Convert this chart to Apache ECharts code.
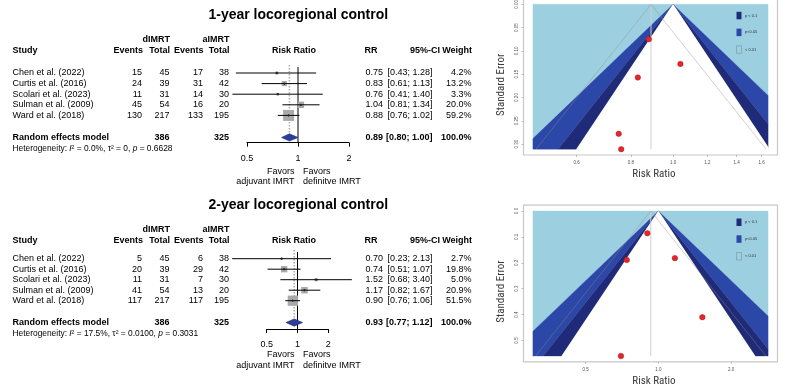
<!DOCTYPE html>
<html><head><meta charset="utf-8">
<script src="https://cdn.jsdelivr.net/npm/echarts@6/dist/echarts.min.js"></script>
<style>html,body{margin:0;padding:0;background:#fff}#c{width:787px;height:388px}</style>
</head><body><div id="c"></div>
<script>
// ---------------- DATA ----------------
const studies = ['Chen et al. (2022)','Curtis et al. (2016)','Scolari et al. (2023)','Sulman et al. (2009)','Ward et al. (2018)'];
const titles = ['1-year locoregional control','2-year locoregional control'];
// 1-year
const y1_dEvents = [15,24,11,45,130];
const y1_dTotal  = [45,39,31,54,217];
const y1_aEvents = [17,31,14,16,133];
const y1_aTotal  = [38,42,30,20,195];
const y1_rr      = [0.75,0.83,0.76,1.04,0.88];
const y1_lo      = [0.43,0.61,0.41,0.81,0.76];
const y1_hi      = [1.28,1.13,1.40,1.34,1.02];
const y1_weight  = [4.2,13.2,3.3,20.0,59.2];
const y1_pooled  = [0.89,0.80,1.00];
const y1_totals  = [386,325];
const y1_het     = ['0.0%','0','0.6628'];
const y1_se      = [0.278,0.157,0.311,0.128,0.075];
// 2-year
const y2_dEvents = [5,20,11,41,117];
const y2_dTotal  = [45,39,31,54,217];
const y2_aEvents = [6,29,7,13,117];
const y2_aTotal  = [38,42,30,20,195];
const y2_rr      = [0.70,0.74,1.52,1.17,0.90];
const y2_lo      = [0.23,0.51,0.68,0.82,0.76];
const y2_hi      = [2.13,1.07,3.40,1.67,1.06];
const y2_weight  = [2.7,19.8,5.0,20.9,51.5];
const y2_pooled  = [0.93,0.77,1.12];
const y2_totals  = [386,325];
const y2_het     = ['17.5%','0.0100','0.3031'];
const y2_se      = [0.56,0.189,0.41,0.182,0.086];
// axes / ticks
const forestTicks = [0.5,1,2];
const funnel1XTicks = [0.6,0.8,1.0,1.2,1.4,1.6];
const funnel1YTicks = [0,0.05,0.10,0.15,0.20,0.25,0.30];
const funnel2XTicks = [0.5,1.0,2.0];
const funnel2YTicks = [0,0.1,0.2,0.3,0.4,0.5];
const funnel1XLim = [0.476,1.655];
const funnel2XLim = [0.3026,2.843];
const contourZ = [2.576,1.96,1.645];
const legendLabels = ['p < 0.1','p<0.05','< 0.01'];

// ---------------- LAYOUT / STYLE ----------------
const FF = '"Liberation Sans", Arial, Helvetica, sans-serif';
const FN = '"Liberation Sans Narrow", "Roboto Condensed", Roboto, sans-serif';
const COL = {name:12.5, dE:142, dN:169.5, aE:203, aN:229, rr:383, ci:432.5, w:471.5,
             hE1:143, hN1:170, hE2:203.5, hN2:229.5, hRR:377.5, hCI:440, hW:472, rrHdr:294, favL:294.5, favR:303};
const RANDOM_ROW = 6.08, HET_ROW = 7.15;
const COLORS = {light:'#9ccfe0', medium:'#2b47a8', dark:'#1f2b78', inner:'#ffffff', diamond:'#2b3f98', square:'#aaaaaa', point:'#e3262d'};
const FL = [
  {titleY:15.3, grpY:39.7, hdrY:50.7, rowY:73, step:10.6, top:67, axisY:142.7, xl:247, xr:349, fav1Y:171.2, fav2Y:181.2},
  {titleY:205.3, grpY:229.7, hdrY:240.7, rowY:258.7, step:10.5, top:252, axisY:329, xl:266.7, xr:328.3, fav1Y:355, fav2Y:366}
];
const FUL = [
  {left:523.5, width:254, fillTop:4.3, pxPerSE:466},
  {left:523.5, width:254, fillTop:211, pxPerSE:259}
];

const forests = [
  {title:titles[0], dE:y1_dEvents, dN:y1_dTotal, aE:y1_aEvents, aN:y1_aTotal, rr:y1_rr, lo:y1_lo, hi:y1_hi, w:y1_weight, pooled:y1_pooled, totals:y1_totals, het:y1_het, L:FL[0]},
  {title:titles[1], dE:y2_dEvents, dN:y2_dTotal, aE:y2_aEvents, aN:y2_aTotal, rr:y2_rr, lo:y2_lo, hi:y2_hi, w:y2_weight, pooled:y2_pooled, totals:y2_totals, het:y2_het, L:FL[1]}
];
const funnels = [
  {rr:y1_rr, se:y1_se, pooled:y1_pooled[0], xlim:funnel1XLim, xTicks:funnel1XTicks, yTicks:funnel1YTicks, xDec:1, yDec:2, L:FUL[0]},
  {rr:y2_rr, se:y2_se, pooled:y2_pooled[0], xlim:funnel2XLim, xTicks:funnel2XTicks, yTicks:funnel2YTicks, xDec:1, yDec:1, L:FUL[1]}
];

// ---------------- HELPERS ----------------
const graphics = [];
function T(x, y, text, o) {
  o = o || {};
  const st = {text:text, x:0, y:0, fill:o.color||'#000', fontSize:o.size||9, fontFamily:o.family||FF,
    fontWeight:o.bold?'bold':'normal', align:o.align||'left', verticalAlign:'middle',
    textAlign:o.align||'left', textVerticalAlign:'middle'};
  if (o.rich) st.rich = o.rich;
  graphics.push({type:'text', x:x, y:y, rotation:o.rot||0, silent:true, style:st});
}
function txt(x, y, s, align, bold) {
  return {type:'text', silent:true, style:{text:s, x:x, y:y, fill:'#000', fontSize:9, fontFamily:FF,
    fontWeight:bold?'bold':'normal', align:align, verticalAlign:'middle', textAlign:align, textVerticalAlign:'middle'}};
}
function clipPoly(poly, L, R) {
  function clip(pts, inside, inter) {
    const out = [];
    for (let k = 0; k < pts.length; k++) {
      const cur = pts[k], prev = pts[(k + pts.length - 1) % pts.length];
      const ci = inside(cur), pi = inside(prev);
      if (ci) { if (!pi) out.push(inter(prev, cur)); out.push(cur); }
      else if (pi) out.push(inter(prev, cur));
    }
    return out;
  }
  const ix = X => (p, q) => [X, p[1] + (q[1] - p[1]) * (X - p[0]) / (q[0] - p[0])];
  let r = clip(poly, p => p[0] >= L, ix(L));
  r = clip(r, p => p[0] <= R, ix(R));
  return r;
}

const grids = [], xAxes = [], yAxes = [], series = [];

// ---------------- FORESTS ----------------
forests.forEach((f, fi) => {
  const L = f.L;
  const yMin = (L.top - L.rowY) / L.step, yMax = (L.axisY - L.rowY) / L.step;
  grids.push({left:L.xl, top:L.top, width:L.xr - L.xl, height:L.axisY - L.top, containLabel:false, outerBoundsMode:'none'});
  xAxes.push({type:'log', logBase:2, gridIndex:fi, position:'bottom', min:forestTicks[0], max:forestTicks[forestTicks.length-1],
    axisLine:{show:true, onZero:false, lineStyle:{color:'#000', width:1}},
    axisTick:{show:true, inside:false, length:4, lineStyle:{color:'#000', width:1}},
    axisLabel:{show:true, color:'#000', fontSize:9, fontFamily:FF, margin:11.5, formatter:v => String(+v)},
    splitLine:{show:false}});
  yAxes.push({type:'value', gridIndex:fi, inverse:true, min:yMin, max:yMax, show:false, axisLine:{onZero:false}});

  series.push({type:'custom', xAxisIndex:fi, yAxisIndex:fi, clip:false, silent:true, z:1,
    data:[[1, 0]], encode:{x:0, y:1},
    renderItem:(params, api) => {
      const a = api.coord([1, yMin]), b = api.coord([1, yMax]);
      const p = api.coord([f.pooled[0], yMin - 0.2]), q = api.coord([f.pooled[0], RANDOM_ROW - 0.45]);
      return {type:'group', children:[
        {type:'line', shape:{x1:p[0], y1:p[1], x2:q[0], y2:q[1]}, style:{stroke:'#b0b0b0', lineWidth:1.6, lineDash:[1.5,1.5]}},
        {type:'line', shape:{x1:a[0], y1:a[1], x2:b[0], y2:b[1]}, style:{stroke:'#000', lineWidth:1}}
      ]};
    }});

  series.push({type:'custom', xAxisIndex:fi, yAxisIndex:fi, clip:false, silent:true, z:3,
    data:studies.map((n, i) => [f.rr[i], i, f.lo[i], f.hi[i], f.w[i]]), encode:{x:0, y:1},
    renderItem:(params, api) => {
      const i = params.dataIndex;
      const row = api.value(1);
      const c = api.coord([api.value(0), row]), a = api.coord([api.value(2), row]), b = api.coord([api.value(3), row]);
      const y = c[1];
      const s = Math.sqrt(api.value(4)) * 1.43;
      return {type:'group', children:[
        {type:'rect', shape:{x:c[0] - s/2, y:y - s/2, width:s, height:s}, style:{fill:COLORS.square}},
        {type:'line', shape:{x1:a[0], y1:y, x2:b[0], y2:y}, style:{stroke:'#000', lineWidth:1}},
        {type:'polygon', shape:{points:[[c[0]-1.4,y],[c[0],y-1.4],[c[0]+1.4,y],[c[0],y+1.4]]}, style:{fill:'#222'}},
        txt(COL.name, y, studies[i], 'left'),
        txt(COL.dE, y, String(f.dE[i]), 'right'),
        txt(COL.dN, y, String(f.dN[i]), 'right'),
        txt(COL.aE, y, String(f.aE[i]), 'right'),
        txt(COL.aN, y, String(f.aN[i]), 'right'),
        txt(COL.rr, y, f.rr[i].toFixed(2), 'right'),
        txt(COL.ci, y, '[' + f.lo[i].toFixed(2) + '; ' + f.hi[i].toFixed(2) + ']', 'right'),
        txt(COL.w, y, f.w[i].toFixed(1) + '%', 'right')
      ]};
    }});

  series.push({type:'custom', xAxisIndex:fi, yAxisIndex:fi, clip:false, silent:true, z:3,
    data:[[f.pooled[0], RANDOM_ROW, f.pooled[1], f.pooled[2]]], encode:{x:0, y:1},
    renderItem:(params, api) => {
      const row = api.value(1);
      const c = api.coord([api.value(0), row]), a = api.coord([api.value(2), row]), b = api.coord([api.value(3), row]);
      const y = c[1], h = 3.6;
      const total = f.w.reduce((s, v) => s + v, 0);
      return {type:'group', children:[
        {type:'polygon', shape:{points:[[a[0], y],[c[0], y - h],[b[0], y],[c[0], y + h]]}, style:{fill:COLORS.diamond, stroke:'#1e2c78', lineWidth:0.6}},
        txt(COL.name, y, 'Random effects model', 'left', true),
        txt(COL.dN, y, String(f.totals[0]), 'right', true),
        txt(COL.aN, y, String(f.totals[1]), 'right', true),
        txt(COL.rr, y, f.pooled[0].toFixed(2), 'right', true),
        txt(COL.ci, y, '[' + f.pooled[1].toFixed(2) + '; ' + f.pooled[2].toFixed(2) + ']', 'right', true),
        txt(COL.w, y, Math.round(total).toFixed(1) + '%', 'right', true)
      ]};
    }});

  T(298.3, L.titleY, f.title, {bold:true, size:14, align:'center'});
  T(COL.hN1, L.grpY, 'dIMRT', {bold:true, align:'right'});
  T(COL.hN2, L.grpY, 'aIMRT', {bold:true, align:'right'});
  T(COL.name, L.hdrY, 'Study', {bold:true});
  T(COL.hE1, L.hdrY, 'Events', {bold:true, align:'right'});
  T(COL.hN1, L.hdrY, 'Total', {bold:true, align:'right'});
  T(COL.hE2, L.hdrY, 'Events', {bold:true, align:'right'});
  T(COL.hN2, L.hdrY, 'Total', {bold:true, align:'right'});
  T(COL.rrHdr, L.hdrY, 'Risk Ratio', {bold:true, align:'center'});
  T(COL.hRR, L.hdrY, 'RR', {bold:true, align:'right'});
  T(COL.hCI, L.hdrY, '95%-CI', {bold:true, align:'right'});
  T(COL.hW, L.hdrY, 'Weight', {bold:true, align:'right'});
  T(COL.name, L.rowY + HET_ROW * L.step,
    '{n|Heterogeneity: }{i|I}{n|² = ' + f.het[0] + ', τ² = ' + f.het[1] + ', }{i|p}{n| = ' + f.het[2] + '}',
    {rich:{n:{fontSize:8.4, fontFamily:FF, fill:'#000', color:'#000'}, i:{fontSize:8.4, fontFamily:FF, fontStyle:'italic', fill:'#000', color:'#000'}}});
  T(COL.favL, L.fav1Y, 'Favors', {align:'right'});
  T(COL.favL, L.fav2Y, 'adjuvant IMRT', {align:'right'});
  T(COL.favR, L.fav1Y, 'Favors', {align:'left'});
  T(COL.favR, L.fav2Y, 'definitve IMRT', {align:'left'});
});

// ---------------- FUNNELS ----------------
funnels.forEach((f, j) => {
  const gi = 2 + j, L = f.L;
  const seMax = Math.max.apply(null, f.se);
  const padY = 0.04 * seMax;
  const lnL = Math.log(f.xlim[0]), lnR = Math.log(f.xlim[1]);
  const padX = 0.04 * (lnR - lnL);
  const top = L.fillTop - padY * L.pxPerSE, height = (seMax + 2 * padY) * L.pxPerSE;
  grids.push({left:L.left, top:top, width:L.width, height:height, show:true, borderColor:'#c8c8c8', borderWidth:1.2,
    backgroundColor:'#ffffff', containLabel:false, outerBoundsMode:'none'});
  xAxes.push({type:'log', logBase:10, gridIndex:gi, position:'bottom', min:Math.exp(lnL - padX), max:Math.exp(lnR + padX),
    axisLine:{show:false, onZero:false},
    axisTick:{show:true, length:2, lineStyle:{color:'#999', width:0.6}, customValues:f.xTicks},
    axisLabel:{show:true, customValues:f.xTicks, formatter:v => (+v).toFixed(f.xDec), fontSize:4.5, color:'#555', fontFamily:FF, margin:5},
    splitLine:{show:false}, minorTick:{show:false}});
  yAxes.push({type:'value', gridIndex:gi, position:'left', inverse:true, min:-padY, max:seMax + padY,
    axisLine:{show:false, onZero:false},
    axisTick:{show:true, length:2, lineStyle:{color:'#999', width:0.6}, customValues:f.yTicks},
    axisLabel:{show:true, customValues:f.yTicks, formatter:v => (+v).toFixed(f.yDec), rotate:90, fontSize:4.5, color:'#555', fontFamily:FF, margin:4},
    splitLine:{show:false}});

  // contour bands: outer light, medium, dark; inner region (p > 0.1) white
  series.push({type:'custom', xAxisIndex:gi, yAxisIndex:gi, clip:false, silent:true, z:1,
    data:[[1, 0]], encode:{x:0, y:1},
    renderItem:(params, api) => {
      const toPx = p => api.coord([Math.exp(p[0]), p[1]]);
      const poly = (pts, fill) => ({type:'polygon', shape:{points:clipPoly(pts, lnL, lnR).map(toPx)}, style:{fill:fill, stroke:fill, lineWidth:0.3}});
      const zO = contourZ[0], zM = contourZ[1], zI = contourZ[2];
      const S = seMax;
      const ch = [
        poly([[lnL,0],[0,0],[-zO*S,S],[lnL,S]], COLORS.light),
        poly([[0,0],[lnR,0],[lnR,S],[zO*S,S]], COLORS.light),
        poly([[0,0],[-zO*S,S],[-zM*S,S]], COLORS.medium),
        poly([[0,0],[zM*S,S],[zO*S,S]], COLORS.medium),
        poly([[0,0],[-zM*S,S],[-zI*S,S]], COLORS.dark),
        poly([[0,0],[zI*S,S],[zM*S,S]], COLORS.dark),
        poly([[0,0],[-zI*S,S],[zI*S,S]], COLORS.inner)
      ];
      const lp = Math.log(f.pooled);
      const v0 = toPx([lp, 0]), v1 = toPx([lp, S]);
      ch.push({type:'line', shape:{x1:v0[0], y1:v0[1], x2:v1[0], y2:v1[1]}, style:{stroke:'#cfcfcf', lineWidth:1}});
      [-1, 1].forEach(s => {
        let x2 = lp + s * 1.96 * S, y2 = S;
        if (x2 < lnL) { y2 = (lnL - lp) / (s * 1.96); x2 = lnL; }
        if (x2 > lnR) { y2 = (lnR - lp) / (s * 1.96); x2 = lnR; }
        const e = toPx([x2, y2]);
        ch.push({type:'line', shape:{x1:v0[0], y1:v0[1], x2:e[0], y2:e[1]}, style:{stroke:'rgba(150,140,125,0.45)', lineWidth:0.9}});
      });
      const cs = params.coordSys;
      const bx = cs.x + cs.width - 41, ft = toPx([0, 0])[1];
      const lfills = [COLORS.dark, COLORS.medium, COLORS.light];
      [7.5, 24.3, 41.5].forEach((dy, k) => {
        ch.push({type:'rect', shape:{x:bx, y:ft + dy, width:5, height:7.5}, style:{fill:lfills[k], stroke:k === 2 ? '#6a8a95' : null, lineWidth:0.5}});
        ch.push({type:'text', style:{text:legendLabels[k], x:bx + 8.5, y:ft + dy + 3.75, fill:'#333', fontSize:4, fontFamily:FF, align:'left', verticalAlign:'middle', textAlign:'left', textVerticalAlign:'middle'}});
      });
      return {type:'group', children:ch};
    }});
  series.push({type:'scatter', xAxisIndex:gi, yAxisIndex:gi, z:5, silent:true,
    data:f.rr.map((v, i) => [v, f.se[i]]), symbol:'circle', symbolSize:5.5,
    itemStyle:{color:COLORS.point, borderColor:'#b81b1b', borderWidth:0.5, opacity:1}});

  T(501, top + height / 2 + 8, 'Standard Error', {family:FN, size:11, color:'#3a3a3a', align:'center', rot:Math.PI / 2});
  T(654, top + height + 19, 'Risk Ratio', {family:FN, size:11, color:'#3a3a3a', align:'center'});
});

const chart = echarts.init(document.getElementById('c'), null, {renderer:'canvas', width:787, height:388});
chart.setOption({
  animation:false,
  backgroundColor:'#ffffff',
  textStyle:{fontFamily:FF},
  grid:grids, xAxis:xAxes, yAxis:yAxes, series:series,
  graphic:{elements:graphics}
});
</script></body></html>
